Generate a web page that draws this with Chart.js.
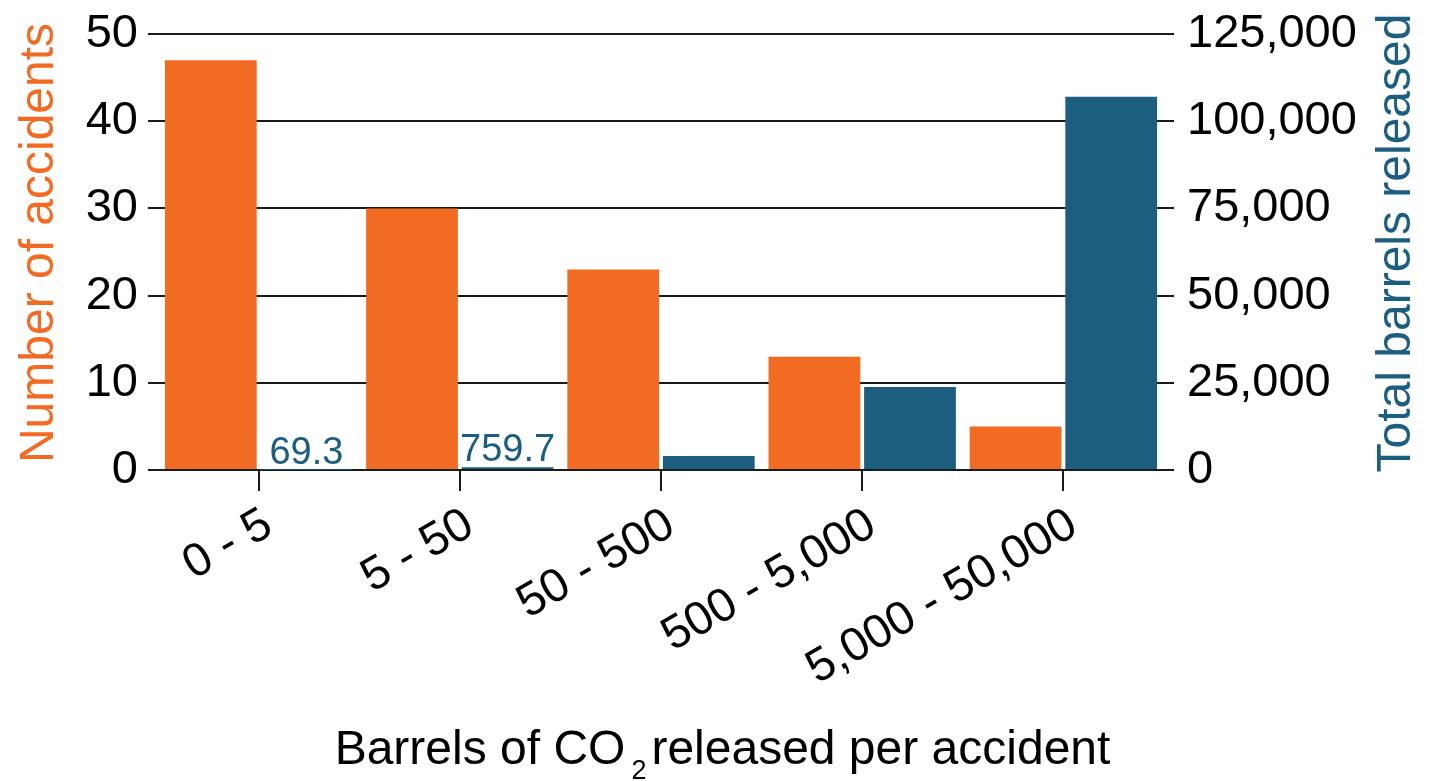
<!DOCTYPE html>
<html lang="en">
<head>
  <meta charset="UTF-8">
  <title>CO2 pipeline accidents</title>
  <script src="https://cdn.jsdelivr.net/npm/chart.js"></script>
  <style>
    html, body { margin: 0; padding: 0; background: #fff; }
    canvas { display: block; }
  </style>
</head>
<body>
<canvas id="accidentChart" width="1445" height="781"></canvas>

<script>
  const categories = ['0 - 5', '5 - 50', '50 - 500', '500 - 5,000', '5,000 - 50,000'];
  const accidents = [47, 30, 23, 13, 5];
  const barrels = [69.3, 759.7, 4000, 23800, 107000];
  const barrelLabels = ['69.3', '759.7', '', '', ''];

  const leftTitle = 'Number of accidents';
  const rightTitle = 'Total barrels released';
  const xTitle = ['Barrels of CO', '2', 'released per accident'];

  const ORANGE = '#F26B23';
  const BLUE = '#1B5E80';
  const FONT = "'Liberation Sans', Arial, sans-serif";
  const LINE = '#1a1a1a';

  // axis titles (right one reads bottom-to-top, x title has a subscript) + small value labels
  const extras = {
    id: 'extras',
    afterDraw(chart) {
      const ctx = chart.ctx;
      const area = chart.chartArea;
      const midY = (area.top + area.bottom) / 2 - 9;

      ctx.save();
      ctx.textAlign = 'center';
      ctx.textBaseline = 'middle';
      ctx.font = '48px ' + FONT;

      ctx.fillStyle = ORANGE;
      ctx.save();
      ctx.translate(40, midY);
      ctx.rotate(-Math.PI / 2);
      ctx.fillText(leftTitle, 0, 0);
      ctx.restore();

      ctx.fillStyle = BLUE;
      ctx.save();
      ctx.translate(1397, midY);
      ctx.rotate(-Math.PI / 2);
      ctx.fillText(rightTitle, 0, 0);
      ctx.restore();

      // x title
      ctx.textAlign = 'left';
      ctx.textBaseline = 'alphabetic';
      ctx.fillStyle = '#000';
      const mainFont = '48px ' + FONT;
      const subFont = '27px ' + FONT;
      ctx.font = mainFont;
      const w1 = ctx.measureText(xTitle[0]).width;
      const w3 = ctx.measureText(xTitle[2]).width;
      ctx.font = subFont;
      const w2 = ctx.measureText(xTitle[1]).width;
      const gapA = 6, gapB = 5;
      const total = w1 + gapA + w2 + gapB + w3;
      let x = chart.width / 2 - total / 2;
      const base = 764;
      ctx.font = mainFont;
      ctx.fillText(xTitle[0], x, base);
      x += w1 + gapA;
      ctx.font = subFont;
      ctx.fillText(xTitle[1], x, base + 15);
      x += w2 + gapB;
      ctx.font = mainFont;
      ctx.fillText(xTitle[2], x, base);

      // value labels over the tiny blue bars
      const meta = chart.getDatasetMeta(1);
      ctx.font = '38px ' + FONT;
      ctx.fillStyle = BLUE;
      ctx.textAlign = 'center';
      meta.data.forEach((bar, i) => {
        if (barrelLabels[i]) ctx.fillText(barrelLabels[i], bar.x, bar.y - 6);
      });
      ctx.restore();
    }
  };

  new Chart(document.getElementById('accidentChart'), {
    type: 'bar',
    data: {
      labels: categories,
      datasets: [{
        label: 'Number of accidents',
        data: accidents,
        backgroundColor: ORANGE,
        yAxisID: 'y',
        categoryPercentage: 0.95,
        barPercentage: 0.96
      }, {
        label: 'Total barrels released',
        data: barrels,
        backgroundColor: BLUE,
        yAxisID: 'y1',
        categoryPercentage: 0.95,
        barPercentage: 0.96
      }]
    },
    options: {
      responsive: false,
      animation: false,
      layout: { padding: { top: 34, left: 0, right: 0, bottom: 0 } },
      plugins: {
        legend: { display: false },
        tooltip: { enabled: false }
      },
      scales: {
        x: {
          offset: true,
          border: { display: false },
          grid: {
            offset: false,
            drawOnChartArea: false,
            drawTicks: true,
            tickLength: 21,
            color: LINE,
            lineWidth: 2
          },
          ticks: {
            color: '#000',
            font: { family: FONT, size: 47 },
            maxRotation: 30,
            minRotation: 30,
            labelOffset: 10,
            padding: 6
          },
          afterFit: s => { s.height = 311; }
        },
        y: {
          position: 'left',
          min: 0,
          max: 50,
          border: { display: false },
          grid: { color: LINE, lineWidth: 2, tickLength: 10 },
          ticks: {
            stepSize: 10,
            color: '#000',
            font: { family: FONT, size: 47, lineHeight: 0.8 },
            padding: 10
          },
          afterFit: s => { s.width = 158; }
        },
        y1: {
          position: 'right',
          min: 0,
          max: 125000,
          border: { display: false },
          grid: { drawOnChartArea: false, color: LINE, lineWidth: 2, tickLength: 10 },
          ticks: {
            stepSize: 25000,
            color: '#000',
            font: { family: FONT, size: 47, lineHeight: 0.8 },
            padding: 13,
            callback: v => v.toLocaleString('en-US')
          },
          afterFit: s => { s.width = 281; }
        }
      }
    },
    plugins: [extras]
  });
</script>
</body>
</html>
